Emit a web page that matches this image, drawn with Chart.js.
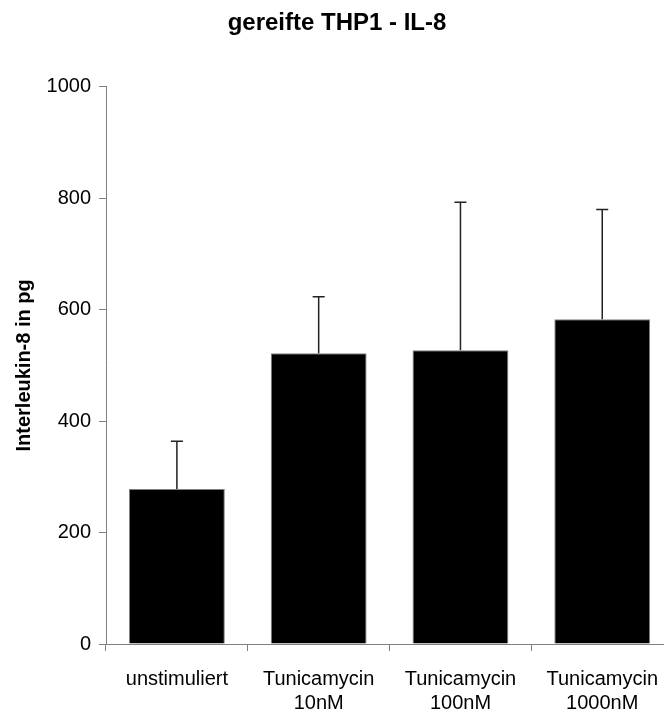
<!DOCTYPE html>
<html>
<head>
<meta charset="utf-8">
<script src="https://cdn.jsdelivr.net/npm/chart.js@4"></script>
<style>
  html, body { margin: 0; padding: 0; background: #fff; overflow: hidden; }
  #wrap { width: 664px; height: 713px; overflow: hidden; }
</style>
</head>
<body>
<div id="wrap">
  <canvas id="chart" width="674" height="713"></canvas>
</div>
<script>
// data
const categories = ['unstimuliert', ['Tunicamycin', '10nM'], ['Tunicamycin', '100nM'], ['Tunicamycin', '1000nM']];
const means = [278, 522, 527, 583];
const errors = [86, 101, 266, 197];
const yTicks = [0, 200, 400, 600, 800, 1000];

const font = "'Liberation Sans', Arial, sans-serif";

/*error bars*/
const errorBars = {
  id: 'errorBars',
  afterDatasetsDraw(chart) {
    const ctx = chart.ctx;
    const meta = chart.getDatasetMeta(0);
    const y = chart.scales.y;
    ctx.save();
    ctx.strokeStyle = '#222';
    ctx.lineWidth = 1.5;
    meta.data.forEach(function (bar, i) {
      const x = bar.x;
      const top = y.getPixelForValue(means[i] + errors[i]);
      const base = y.getPixelForValue(means[i]);
      ctx.beginPath();
      ctx.moveTo(x, base);
      ctx.lineTo(x, top);
      ctx.moveTo(x - 6, top);
      ctx.lineTo(x + 6, top);
      ctx.stroke();
    });
    ctx.restore();
  }
};

new Chart(document.getElementById('chart'), {
  type: 'bar',
  data: {
    labels: categories,
    datasets: [{
      data: means,
      backgroundColor: '#000',
      borderColor: '#808080',
      borderWidth: 1,
      categoryPercentage: 1,
      barPercentage: 0.676
    }]
  },
  options: {
    responsive: false,
    animation: false,
    layout: { padding: 0 },
    plugins: {
      legend: { display: false },
      tooltip: { enabled: false },
      title: {
        display: true,
        text: 'gereifte THP1 - IL-8',
        color: '#000',
        font: { family: font, size: 24, weight: 'bold' },
        padding: { top: 9, bottom: 49 }
      }
    },
    scales: {
      x: {
        grid: {
          offset: true,
          drawOnChartArea: false,
          drawTicks: true,
          tickLength: 7,
          color: '#808080'
        },
        border: { color: '#808080', width: 1 },
        ticks: {
          color: '#000',
          font: { family: font, size: 20 },
          padding: 16,
          maxRotation: 0,
          autoSkip: false
        },
        afterFit: function (scale) { scale.height = 69; }
      },
      y: {
        min: 0,
        max: 1000,
        afterBuildTicks: function (scale) {
          scale.ticks = yTicks.map(v => ({ value: v }));
        },
        grid: {
          drawOnChartArea: false,
          drawTicks: true,
          tickLength: 7,
          color: '#808080'
        },
        border: { color: '#808080', width: 1 },
        ticks: {
          color: '#000',
          font: { family: font, size: 20 },
          padding: 8,
          callback: function (value) { return String(value); }
        },
        title: {
          display: true,
          text: 'Interleukin-8 in pg',
          color: '#000',
          font: { family: font, size: 20, weight: 'bold' },
          padding: { top: 12, bottom: 0 }
        },
        afterFit: function (scale) { scale.width = 106; }
      }
    }
  },
  plugins: [errorBars]
});
</script>
</body>
</html>
